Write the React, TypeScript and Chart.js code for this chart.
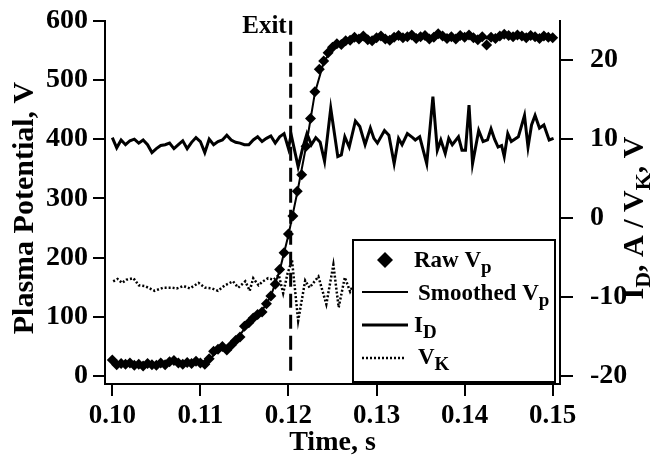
import React, { useEffect, useRef } from 'react';
import { Chart, registerables } from 'chart.js';

Chart.register(...registerables);

const FONT = '"Liberation Serif", "Times New Roman", serif';

// ---- tick labels ----
const xTicks = [0.1, 0.11, 0.12, 0.13, 0.14, 0.15];
const leftTicks = [0, 100, 200, 300, 400, 500, 600];
const rightTicks = [-20, -10, 0, 10, 20];
const exitTime = 0.12025;

// ---- Raw Vp (diamonds, left axis) ----
const rawTime = [
  0.1000, 0.1005, 0.1010, 0.1015, 0.1020, 0.1025, 0.1030, 0.1035, 0.1040, 0.1045,
  0.1050, 0.1055, 0.1060, 0.1065, 0.1070, 0.1075, 0.1080, 0.1085, 0.1090, 0.1095,
  0.1100, 0.1105, 0.1110, 0.1115, 0.1120, 0.1125, 0.1130, 0.1135, 0.1140, 0.1145,
  0.1150, 0.1155, 0.1160, 0.1165, 0.1170, 0.1175, 0.1180, 0.1185, 0.1190, 0.1195,
  0.1200, 0.1205, 0.1210, 0.1215, 0.1220, 0.1225, 0.1230, 0.1235, 0.1240, 0.1245,
  0.1250, 0.1255, 0.1260, 0.1265, 0.1270, 0.1275, 0.1280, 0.1285, 0.1290, 0.1295,
  0.1300, 0.1305, 0.1310, 0.1315, 0.1320, 0.1325, 0.1330, 0.1335, 0.1340, 0.1345,
  0.1350, 0.1355, 0.1360, 0.1365, 0.1370, 0.1375, 0.1380, 0.1385, 0.1390, 0.1395,
  0.1400, 0.1405, 0.1410, 0.1415, 0.1420, 0.1425, 0.1430, 0.1435, 0.1440, 0.1445,
  0.1450, 0.1455, 0.1460, 0.1465, 0.1470, 0.1475, 0.1480, 0.1485, 0.1490, 0.1495,
  0.1500,
];
const rawVp = [
  27, 19, 21, 20, 22, 18, 20, 17, 21, 19,
  18, 22, 19, 24, 26, 22, 20, 23, 21, 25,
  22, 20, 29, 42, 45, 50, 44, 52, 60, 66,
  84, 90, 98, 104, 108, 122, 135, 155, 180, 208,
  240, 270, 312, 340, 388, 435, 480, 518, 532, 546,
  555, 561, 560, 566, 567, 572, 569, 574, 568, 566,
  571, 574, 569, 567, 572, 575, 571, 573, 576, 570,
  573, 575, 569, 572, 578, 574, 570, 573, 569, 575,
  572, 576, 571, 568, 573, 559, 572, 570, 574, 577,
  575, 573, 576, 574, 571, 575, 573, 570, 574, 572,
  571,
];

// ---- Smoothed Vp (thin line, left axis) ----
const smoothTime = [
  0.100, 0.101, 0.102, 0.103, 0.104, 0.105, 0.106, 0.107, 0.108, 0.109,
  0.110, 0.111, 0.112, 0.113, 0.114, 0.115, 0.116, 0.117, 0.118, 0.119,
  0.120, 0.121, 0.122, 0.123, 0.124, 0.125, 0.126, 0.127, 0.128, 0.129,
  0.130, 0.131, 0.132, 0.133, 0.134, 0.135, 0.136, 0.137, 0.138, 0.139,
  0.140, 0.141, 0.142, 0.143, 0.144, 0.145, 0.146, 0.147, 0.148, 0.149,
  0.150,
];
const smoothVp = [
  23, 20, 20, 19, 19, 20, 21, 23, 22, 23,
  22, 28, 42, 47, 58, 80, 97, 110, 135, 178,
  238, 310, 388, 478, 530, 553, 561, 566, 569, 569,
  571, 569, 572, 572, 574, 572, 571, 575, 571, 572,
  573, 570, 571, 569, 573, 575, 574, 573, 572, 572,
  571,
];

// ---- I_D (thick line, right axis) ----
const idTime = [
  0.1000, 0.1005, 0.1010, 0.1015, 0.1020, 0.1025, 0.1030, 0.1035, 0.1040, 0.1045,
  0.1050, 0.1055, 0.1060, 0.1065, 0.1070, 0.1075, 0.1080, 0.1085, 0.1090, 0.1095,
  0.1100, 0.1105, 0.1110, 0.1115, 0.1120, 0.1125, 0.1130, 0.1135, 0.1140, 0.1145,
  0.1150, 0.1155, 0.1160, 0.1165, 0.1170, 0.1175, 0.1180, 0.1185, 0.1190, 0.1195,
  0.1200, 0.1203, 0.1211, 0.1216, 0.1221, 0.1226, 0.1231, 0.1236, 0.1241, 0.1248,
  0.1256, 0.1260, 0.1264, 0.1269, 0.1276, 0.1281, 0.1287, 0.1293, 0.1297, 0.1301,
  0.1309, 0.1314, 0.1320, 0.1325, 0.1329, 0.1335, 0.1341, 0.1344, 0.1349, 0.1357,
  0.1364, 0.1369, 0.1373, 0.1378, 0.1382, 0.1386, 0.1393, 0.1397, 0.1401, 0.1405,
  0.1409, 0.1416, 0.1421, 0.1426, 0.1430, 0.1434, 0.1438, 0.1442, 0.1445, 0.1449,
  0.1453, 0.1461, 0.1468, 0.1472, 0.1476, 0.1480, 0.1485, 0.1490, 0.1496, 0.1501,
];
const idValue = [
  10.2, 8.9, 9.9, 9.3, 9.8, 10.0, 9.5, 9.9, 9.3, 8.3,
  8.8, 9.2, 9.3, 9.5, 8.8, 9.3, 9.8, 8.8, 9.6, 10.2,
  9.7, 8.3, 10.0, 9.3, 9.7, 9.9, 10.5, 9.9, 9.6, 9.5,
  9.3, 9.3, 9.9, 10.3, 9.7, 10.1, 10.4, 9.5, 10.3, 10.7,
  8.8, 10.6, 6.5, 8.8, 10.7, 9.3, 10.2, 9.6, 7.2, 13.9,
  7.8, 8.0, 10.3, 9.0, 12.3, 11.6, 9.3, 11.4, 10.1, 9.5,
  11.1, 10.5, 6.9, 10.1, 9.3, 10.7, 10.2, 9.9, 10.3, 6.9,
  15.4, 8.6, 9.9, 8.2, 10.1, 9.3, 10.3, 8.6, 8.6, 14.3,
  6.9, 11.1, 9.7, 9.9, 11.3, 10.0, 9.0, 9.2, 7.8, 10.7,
  9.7, 10.3, 13.0, 9.0, 11.8, 13.0, 11.4, 11.8, 9.9, 10.1,
];

// ---- V_K (dotted line, right axis) ----
const vkTime = [
  0.1001, 0.1006, 0.1011, 0.1016, 0.1024, 0.1030, 0.1037, 0.1048, 0.1058, 0.1067,
  0.1073, 0.1081, 0.1088, 0.1098, 0.1105, 0.1113, 0.1120, 0.1128, 0.1137, 0.1143,
  0.1151, 0.1156, 0.1160, 0.1166, 0.1171, 0.1177, 0.1183, 0.1189, 0.1194, 0.1199,
  0.1204, 0.1211, 0.1219, 0.1224, 0.1234, 0.1243, 0.1251, 0.1257, 0.1264, 0.1270,
  0.1273,
];
const vkValue = [
  -8.0, -7.7, -8.2, -7.8, -7.6, -8.5, -8.6, -9.2, -8.8, -8.8,
  -8.9, -8.6, -8.9, -8.2, -8.8, -8.9, -9.2, -8.5, -8.0, -8.8,
  -8.0, -9.2, -7.6, -8.5, -8.0, -7.6, -7.8, -7.2, -9.5, -7.0,
  -5.3, -13.0, -7.9, -8.8, -7.4, -10.9, -5.9, -11.3, -7.5, -9.3,
  -8.6,
];

type Part = { t: string; sub?: boolean };

function richWidth(ctx: CanvasRenderingContext2D, parts: Part[], size: number, subSize: number) {
  let w = 0;
  for (const p of parts) {
    ctx.font = `bold ${p.sub ? subSize : size}px ${FONT}`;
    w += ctx.measureText(p.t).width;
  }
  return w;
}

function drawRich(
  ctx: CanvasRenderingContext2D,
  parts: Part[],
  x: number,
  y: number,
  size: number,
  subSize: number,
  subDy: number,
) {
  let cx = x;
  ctx.textAlign = 'left';
  ctx.textBaseline = 'alphabetic';
  for (const p of parts) {
    ctx.font = `bold ${p.sub ? subSize : size}px ${FONT}`;
    ctx.fillText(p.t, cx, p.sub ? y + subDy : y);
    cx += ctx.measureText(p.t).width;
  }
}

const overlayPlugin = {
  id: 'overlay',
  afterDatasetsDraw(chart: any) {
    const ctx: CanvasRenderingContext2D = chart.ctx;
    const xs = chart.scales.x;
    const yl = chart.scales.yL;
    const area = chart.chartArea;
    ctx.save();
    ctx.fillStyle = '#000';
    ctx.strokeStyle = '#000';

    // Exit dashed line
    const ex = xs.getPixelForValue(exitTime);
    const yTop = yl.getPixelForValue(600);
    const yBot = yl.getPixelForValue(0);
    ctx.lineWidth = 3;
    ctx.setLineDash([14, 7]);
    ctx.beginPath();
    ctx.moveTo(ex, yTop);
    ctx.lineTo(ex, yBot);
    ctx.stroke();
    ctx.setLineDash([]);

    ctx.font = `bold 25px ${FONT}`;
    ctx.textAlign = 'right';
    ctx.textBaseline = 'alphabetic';
    ctx.fillText('Exit', ex - 4, yTop + 12);

    // Legend box
    const bx = area.right - 207;
    const by = area.bottom - 144;
    const bw = 202;
    const bh = 142;
    ctx.fillStyle = '#fff';
    ctx.fillRect(bx, by, bw, bh);
    ctx.lineWidth = 2;
    ctx.strokeRect(bx, by, bw, bh);
    ctx.fillStyle = '#000';

    const tx = bx + 61;
    const lx0 = bx + 9;
    const lx1 = bx + 55;
    // row 1: diamond
    const dx = bx + 32;
    const dy = by + 20;
    ctx.beginPath();
    ctx.moveTo(dx, dy - 8);
    ctx.lineTo(dx + 8, dy);
    ctx.lineTo(dx, dy + 8);
    ctx.lineTo(dx - 8, dy);
    ctx.closePath();
    ctx.fill();
    drawRich(ctx, [{ t: 'Raw V' }, { t: 'p', sub: true }], tx, by + 27, 23, 19, 6);
    // row 2
    ctx.lineWidth = 2;
    ctx.beginPath();
    ctx.moveTo(lx0, by + 52);
    ctx.lineTo(lx1, by + 52);
    ctx.stroke();
    drawRich(ctx, [{ t: 'Smoothed V' }, { t: 'p', sub: true }], tx + 4, by + 60, 23, 19, 6);
    // row 3
    ctx.lineWidth = 3;
    ctx.beginPath();
    ctx.moveTo(lx0, by + 85);
    ctx.lineTo(lx1, by + 85);
    ctx.stroke();
    drawRich(ctx, [{ t: 'I' }, { t: 'D', sub: true }], tx, by + 92, 23, 19, 6);
    // row 4
    ctx.lineWidth = 2.5;
    ctx.setLineDash([2, 2]);
    ctx.beginPath();
    ctx.moveTo(lx0, by + 118);
    ctx.lineTo(lx1 - 3, by + 118);
    ctx.stroke();
    ctx.setLineDash([]);
    drawRich(ctx, [{ t: 'V' }, { t: 'K', sub: true }], tx + 4, by + 124, 23, 19, 6);

    ctx.restore();
  },
  afterDraw(chart: any) {
    const ctx: CanvasRenderingContext2D = chart.ctx;
    const area = chart.chartArea;
    ctx.save();
    ctx.fillStyle = '#000';

    // bottom title
    ctx.font = `bold 28px ${FONT}`;
    ctx.textAlign = 'center';
    ctx.textBaseline = 'middle';
    ctx.fillText('Time, s', (area.left + area.right) / 2, 443);

    // left title
    ctx.font = `bold 30px ${FONT}`;
    ctx.save();
    ctx.translate(25, 208);
    ctx.rotate(-Math.PI / 2);
    ctx.fillText('Plasma Potential, V', 0, 0);
    ctx.restore();

    // right title
    const parts: Part[] = [
      { t: 'I' },
      { t: 'D', sub: true },
      { t: ', A / V' },
      { t: 'K', sub: true },
      { t: ', V' },
    ];
    const w = richWidth(ctx, parts, 30, 22);
    ctx.save();
    ctx.translate(643, 218);
    ctx.rotate(-Math.PI / 2);
    drawRich(ctx, parts, -w / 2, 0, 30, 22, 7);
    ctx.restore();

    ctx.restore();
  },
};

const xTickFont = { family: FONT, size: 27, weight: 'bold' as const };
const yTickFont = { family: FONT, size: 28, weight: 'bold' as const };

export default function App() {
  const ref = useRef<HTMLCanvasElement | null>(null);

  useEffect(() => {
    if (!ref.current) return;
    const chart = new Chart(ref.current, {
      type: 'line',
      data: {
        datasets: [
          {
            label: 'Raw Vp',
            data: rawTime.map((t, i) => ({ x: t, y: rawVp[i] })),
            yAxisID: 'yL',
            showLine: false,
            pointStyle: 'rectRot',
            pointRadius: 5.5,
            pointBorderWidth: 0,
            backgroundColor: '#000',
            borderColor: '#000',
          },
          {
            label: 'Smoothed Vp',
            data: smoothTime.map((t, i) => ({ x: t, y: smoothVp[i] })),
            yAxisID: 'yL',
            borderColor: '#000',
            borderWidth: 2,
            pointRadius: 0,
            tension: 0,
          },
          {
            label: 'I_D',
            data: idTime.map((t, i) => ({ x: t, y: idValue[i] })),
            yAxisID: 'yR',
            borderColor: '#000',
            borderWidth: 3,
            pointRadius: 0,
            tension: 0,
          },
          {
            label: 'V_K',
            data: vkTime.map((t, i) => ({ x: t, y: vkValue[i] })),
            yAxisID: 'yR',
            borderColor: '#000',
            borderWidth: 2.5,
            borderDash: [2, 2],
            pointRadius: 0,
            tension: 0,
          },
        ],
      },
      options: {
        animation: false,
        responsive: true,
        maintainAspectRatio: false,
        events: [],
        layout: { padding: { top: 20.7, left: 0, right: 0, bottom: 0 } },
        plugins: { legend: { display: false }, tooltip: { enabled: false } },
        scales: {
          x: {
            type: 'linear',
            position: 'bottom',
            min: 0.09917,
            max: 0.15083,
            afterBuildTicks: (s: any) => {
              s.ticks = xTicks.map((v) => ({ value: v }));
            },
            afterFit: (s: any) => {
              s.height = 82;
              s.paddingLeft = 0;
              s.paddingRight = 0;
            },
            grid: { drawOnChartArea: false, drawTicks: true, tickLength: 12, color: '#000', lineWidth: 2 },
            border: { display: true, color: '#000', width: 2 },
            ticks: {
              color: '#000',
              font: xTickFont,
              padding: 4,
              maxRotation: 0,
              autoSkip: false,
              callback: (v: any) => Number(v).toFixed(2),
            },
          },
          yL: {
            type: 'linear',
            position: 'left',
            min: -13.5,
            max: 600,
            afterBuildTicks: (s: any) => {
              s.ticks = leftTicks.map((v) => ({ value: v }));
            },
            afterFit: (s: any) => {
              s.width = 105;
              s.paddingTop = 0;
              s.paddingBottom = 0;
            },
            grid: { drawOnChartArea: false, drawTicks: true, tickLength: 12, color: '#000', lineWidth: 2 },
            border: { display: true, color: '#000', width: 2 },
            ticks: { color: '#000', font: yTickFont, padding: 5, autoSkip: false, callback: (v: any) => String(v) },
          },
          yR: {
            type: 'linear',
            position: 'right',
            min: -21.0,
            max: 25,
            afterBuildTicks: (s: any) => {
              s.ticks = rightTicks.map((v) => ({ value: v }));
            },
            afterFit: (s: any) => {
              s.width = 105;
              s.paddingTop = 0;
              s.paddingBottom = 0;
            },
            grid: { drawOnChartArea: false, drawTicks: true, tickLength: 13, color: '#000', lineWidth: 2 },
            border: { display: true, color: '#000', width: 2 },
            ticks: { color: '#000', font: yTickFont, padding: 17, autoSkip: false, callback: (v: any) => String(v) },
          },
        },
      },
      plugins: [overlayPlugin],
    });
    return () => chart.destroy();
  }, []);

  return (
    <div style={{ position: 'fixed', left: 0, top: 0, width: 665, height: 466, background: '#fff' }}>
      <canvas ref={ref} />
    </div>
  );
}
